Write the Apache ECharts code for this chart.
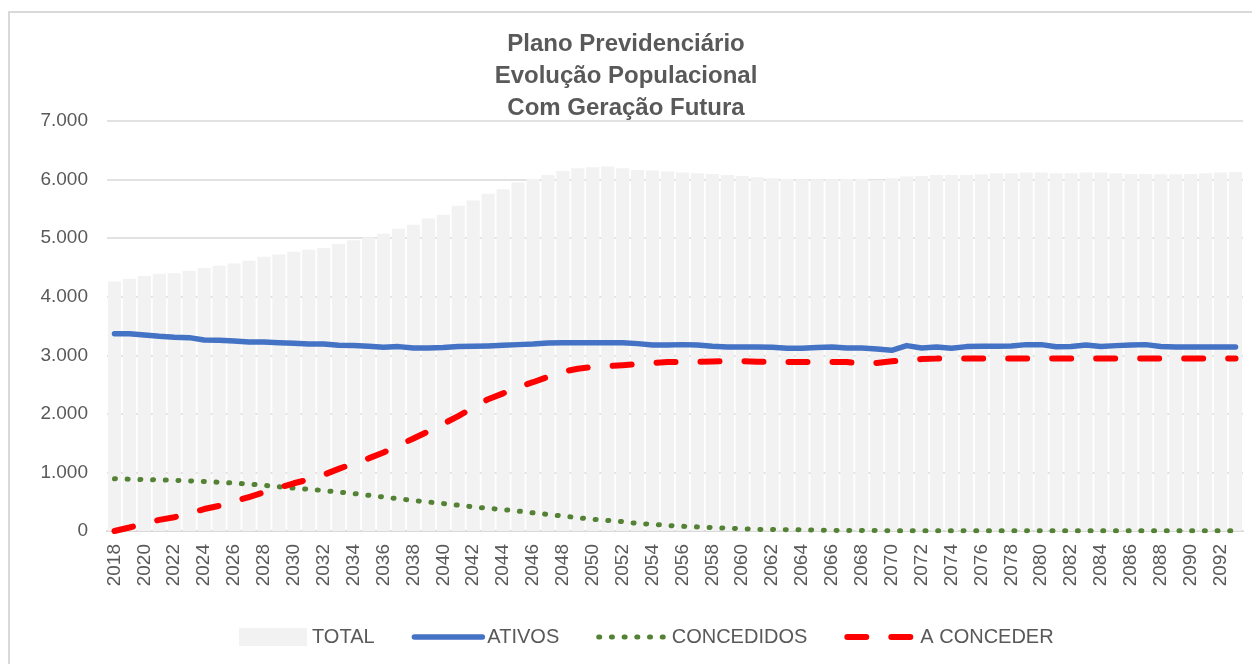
<!DOCTYPE html>
<html>
<head>
<meta charset="utf-8">
<script src="https://cdn.jsdelivr.net/npm/echarts@6/dist/echarts.min.js"></script>
<style>
  html, body { margin: 0; padding: 0; background: #fff; }
  #chart { width: 1252px; height: 664px; }
</style>
</head>
<body>
<div id="chart"></div>
<script>
// anos 2018..2093
const anos = [];
for (let a = 2018; a <= 2093; a++) anos.push(String(a));

const yTicks = [0, 1000, 2000, 3000, 4000, 5000, 6000, 7000];

const total = [
  4261, 4307, 4352, 4392, 4400, 4443, 4489, 4528, 4568, 4614,
  4682, 4722, 4767, 4801, 4830, 4898, 4966, 5011, 5074, 5159,
  5227, 5335, 5398, 5551, 5642, 5756, 5835, 5949, 6011, 6080,
  6148, 6193, 6210, 6222, 6193, 6165, 6153, 6136, 6119, 6108,
  6097, 6080, 6062, 6040, 6023, 6011, 6006, 6006, 6006, 6011,
  6011, 5994, 6023, 6051, 6062, 6080, 6080, 6080, 6091, 6108,
  6108, 6119, 6119, 6108, 6108, 6119, 6119, 6108, 6097, 6097,
  6091, 6091, 6097, 6108, 6119, 6131
];

const ativos = [
  3369, 3369, 3347, 3324, 3307, 3301, 3261, 3256, 3244, 3227,
  3227, 3216, 3205, 3193, 3193, 3170, 3165, 3153, 3136, 3148,
  3125, 3125, 3131, 3148, 3153, 3159, 3170, 3182, 3193, 3210,
  3216, 3216, 3216, 3216, 3216, 3199, 3176, 3176, 3182, 3176,
  3153, 3142, 3142, 3142, 3136, 3119, 3119, 3131, 3142, 3125,
  3125, 3108, 3085, 3165, 3125, 3142, 3119, 3148, 3153, 3153,
  3160, 3182, 3182, 3145, 3150, 3176, 3150, 3165, 3176, 3182,
  3150, 3142, 3142, 3142, 3142, 3142
];

const concedidos = [
  892, 885, 878, 872, 866, 856, 845, 832, 818, 800,
  780, 755, 733, 712, 690, 664, 640, 610, 580, 550,
  520, 495, 468, 440, 412, 388, 365, 340, 310, 283,
  256, 228, 200, 180, 160, 128, 115, 95, 80, 70,
  58, 48, 38, 28, 26, 23, 20, 15, 11, 9,
  8, 7, 6, 6, 5, 5, 5, 4, 4, 4,
  4, 4, 3, 3, 3, 3, 3, 3, 3, 3,
  3, 3, 3, 3, 3, 3
];

const aConceder = [
  0, 60, 130, 190, 235, 300, 375, 430, 505, 580,
  660, 740, 815, 880, 960, 1060, 1155, 1240, 1340, 1460,
  1580, 1700, 1830, 1960, 2110, 2250, 2350, 2460, 2540, 2630,
  2720, 2770, 2800, 2815, 2830, 2850, 2870, 2885, 2886, 2890,
  2895, 2900, 2900, 2890, 2888, 2886, 2886, 2886, 2886, 2886,
  2855, 2870, 2898, 2920, 2935, 2943, 2943, 2943, 2943, 2943,
  2943, 2943, 2943, 2943, 2943, 2943, 2943, 2943, 2943, 2943,
  2943, 2943, 2943, 2943, 2943, 2943
];

const fmtMilhar = v => String(v).replace(/\B(?=(\d{3})+(?!\d))/g, '.');
const cinza = '#595959';
const fonte = '"Liberation Sans", Arial, sans-serif';

const azul = '#4472c4', verde = '#548235', vermelho = '#ff0000';

const chart = echarts.init(document.getElementById('chart'));
chart.setOption({
  animation: false,
  textStyle: { fontFamily: fonte },
  graphic: [{
    type: 'rect',
    shape: { x: 9, y: 12, width: 1260, height: 700 },
    style: { fill: null, stroke: '#d9d9d9', lineWidth: 2 },
    silent: true
  }],
  title: {
    text: 'Plano Previdenciário\nEvolução Populacional\nCom Geração Futura',
    left: 'center',
    top: 23,
    textStyle: {
      fontFamily: fonte, fontSize: 24, fontWeight: 'bold',
      color: cinza, lineHeight: 32
    }
  },
  legend: {
    left: 234,
    top: 622,
    itemWidth: 68,
    itemHeight: 18,
    itemGap: 37,
    textStyle: { fontSize: 20, color: cinza, fontFamily: fonte },
    data: [
      { name: 'TOTAL', icon: 'rect' },
      { name: 'ATIVOS', itemStyle: { opacity: 0 }, lineStyle: { width: 5.5 } },
      { name: 'CONCEDIDOS', itemStyle: { opacity: 0 }, lineStyle: { width: 5 } },
      { name: 'A CONCEDER', itemStyle: { opacity: 0 }, lineStyle: { width: 6 } }
    ]
  },
  grid: { left: 107, right: 9, top: 121, bottom: 133 },
  xAxis: {
    type: 'category',
    data: anos,
    axisTick: { show: false },
    axisLine: { lineStyle: { color: '#d9d9d9', width: 2 } },
    axisLabel: {
      interval: 1, rotate: 90, margin: 13,
      fontSize: 19, color: cinza, fontFamily: fonte
    }
  },
  yAxis: {
    type: 'value',
    min: yTicks[0],
    max: yTicks[yTicks.length - 1],
    interval: 1000,
    axisLine: { show: false },
    axisTick: { show: false },
    splitLine: { lineStyle: { color: '#d9d9d9', width: 1.5 } },
    axisLabel: {
      formatter: fmtMilhar, margin: 19,
      fontSize: 19, color: cinza, fontFamily: fonte
    }
  },
  series: [
    {
      name: 'TOTAL', type: 'bar', data: total,
      barCategoryGap: '12%',
      itemStyle: { color: '#f2f2f2' }
    },
    {
      name: 'ATIVOS', type: 'line', data: ativos,
      symbol: 'none',
      itemStyle: { color: azul },
      lineStyle: { color: azul, width: 5.5, cap: 'round', join: 'round' }
    },
    {
      name: 'CONCEDIDOS', type: 'line', data: concedidos,
      symbol: 'none',
      itemStyle: { color: verde },
      lineStyle: { color: verde, width: 5, type: [1, 11.7], cap: 'round' }
    },
    {
      name: 'A CONCEDER', type: 'line', data: aConceder,
      symbol: 'none',
      itemStyle: { color: vermelho },
      lineStyle: { color: vermelho, width: 6, type: [19, 25], cap: 'round', join: 'round' }
    }
  ]
});
</script>
</body>
</html>
